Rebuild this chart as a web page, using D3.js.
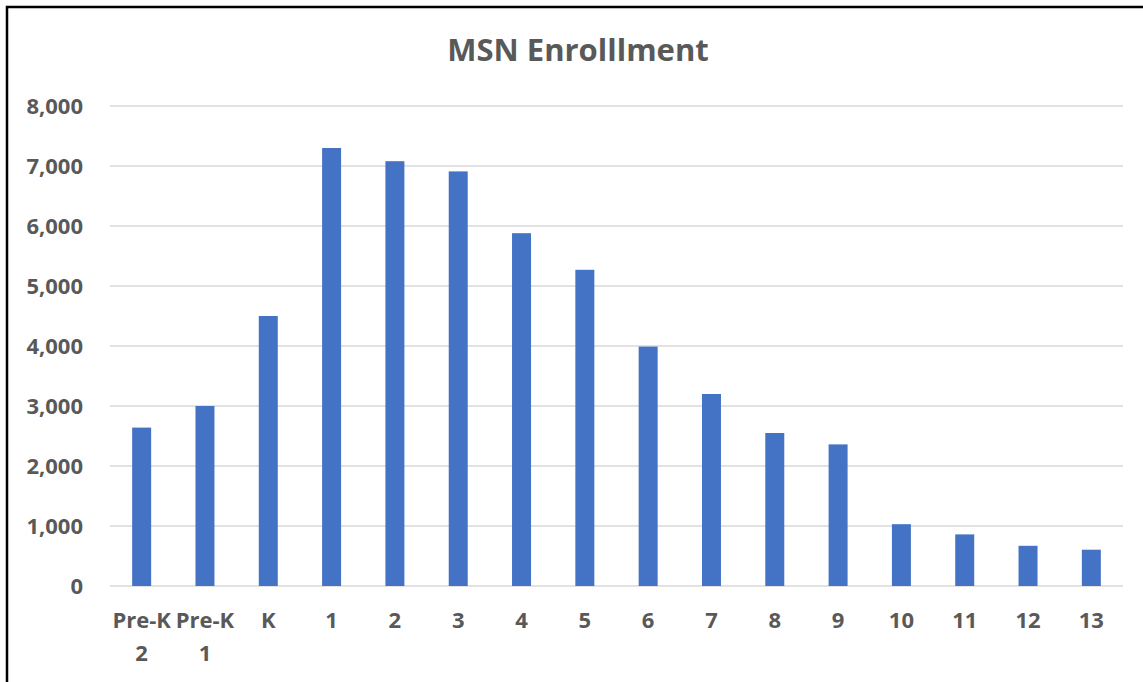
<!DOCTYPE html>
<html>
<head>
<meta charset="utf-8">
<script src="https://cdn.jsdelivr.net/npm/d3@7"></script>
<style>
  body { margin: 0; background: #fff; }
  svg { display: block; }
</style>
</head>
<body>
<div id="chart"></div>
<script>
// grade levels and enrollment counts
var grades = ["Pre-K 2", "Pre-K 1", "K", "1", "2", "3", "4", "5", "6", "7", "8", "9", "10", "11", "12", "13"];
var enrollment = [2640, 3000, 4500, 7300, 7080, 6910, 5880, 5270, 3990, 3200, 2550, 2360, 1030, 860, 670, 605];
var yTicks = [0, 1000, 2000, 3000, 4000, 5000, 6000, 7000, 8000];

var W = 1143, H = 682;
var margin = {top: 106, right: 20, bottom: 96, left: 110};
var width = 1123 - margin.left,
    height = 586 - margin.top;

var svg = d3.select("#chart").append("svg")
    .attr("width", W)
    .attr("height", H);

// outer frame (runs off the right/bottom edge like the screenshot)
svg.append("rect")
    .attr("x", 7).attr("y", 7)
    .attr("width", W).attr("height", H)
    .attr("fill", "none")
    .attr("stroke", "#000")
    .attr("stroke-width", 2.5);

svg.append("text")
    .attr("x", 578)
    .attr("y", 61)
    .attr("text-anchor", "middle")
    .style("font-family", "'Open Sans', sans-serif")
    .style("font-weight", "bold")
    .style("font-size", "31px")
    .style("fill", "#595959")
    .text("MSN Enrolllment");

var g = svg.append("g")
    .attr("transform", "translate(" + margin.left + "," + margin.top + ")");

var x = d3.scaleBand().domain(grades).range([0, width]).paddingInner(0.7).paddingOuter(0.35);
var y = d3.scaleLinear().domain([0, 8000]).range([height, 0]);

// gridlines
g.append("g")
    .selectAll("line")
    .data(yTicks)
    .enter().append("line")
    .attr("x1", 0).attr("x2", width)
    .attr("y1", d => y(d)).attr("y2", d => y(d))
    .attr("stroke", "#d9d9d9")
    .attr("stroke-width", 1.5);

// y axis
var yAxis = g.append("g")
    .call(d3.axisLeft(y).tickValues(yTicks).tickFormat(d3.format(",")).tickSize(0).tickPadding(27));
yAxis.select(".domain").remove();
yAxis.selectAll("text")
    .style("font-family", "'Open Sans', sans-serif")
    .style("font-weight", "bold")
    .style("font-size", "22px")
    .style("fill", "#595959");

// bars
g.selectAll(".bar")
    .data(enrollment)
    .enter().append("rect")
    .attr("class", "bar")
    .attr("x", (d, i) => x(grades[i]))
    .attr("width", x.bandwidth())
    .attr("y", d => y(d))
    .attr("height", d => height - y(d))
    .attr("fill", "#4472c4");

// x axis, two-line labels for Pre-K
var xAxis = g.append("g")
    .attr("transform", "translate(0," + height + ")")
    .call(d3.axisBottom(x).tickSize(0).tickPadding(0));
xAxis.select(".domain").remove();
xAxis.selectAll("text").remove();
xAxis.selectAll(".tick").each(function(d) {
    var parts = d.split(" ");
    var t = d3.select(this).append("text")
        .attr("text-anchor", "middle")
        .style("font-family", "'Open Sans', sans-serif")
        .style("font-weight", "bold")
        .style("font-size", "22px")
        .style("fill", "#595959");
    parts.forEach(function(p, i) {
        t.append("tspan").attr("x", 0).attr("y", 42 + i * 33).text(p);
    });
});
</script>
</body>
</html>
